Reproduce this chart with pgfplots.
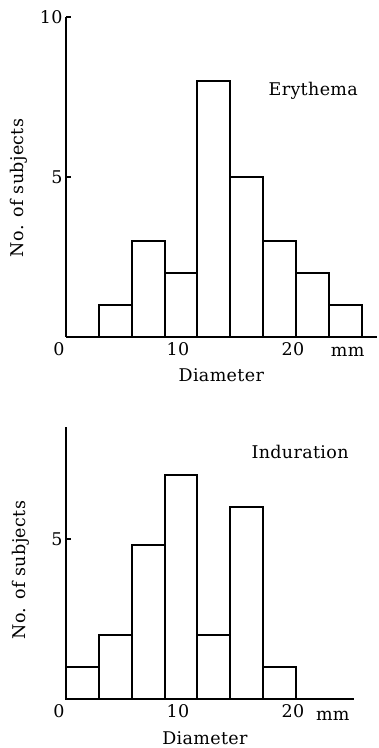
\documentclass[border=0pt]{standalone}
\usepackage{fontspec}
\setmainfont{DejaVu Serif}[LetterSpace=2]
\usepackage{pgfplots}
\pgfplotsset{compat=1.18}
\newcommand{\chartfont}{\fontsize{17.5bp}{20bp}\selectfont}
\pgfplotsset{
  hist/.style={
    x=11.5bp, y=32bp, xmin=0, ymin=0,
    scale only axis,
    axis lines=left,
    axis line style={-, line width=1.4bp, black},
    tick align=inside,
    major tick length=5bp,
    ytick style={line width=1.2bp, black},
    x tick style={draw=none},
    xtick={10,20},
    xticklabel style={xshift=-3bp, yshift=-1.5bp},
    extra x ticks={0},
    extra x tick labels={0},
    extra x tick style={xticklabel style={xshift=-4bp}, x tick style={draw=none}},
    /pgf/number format/assume math mode=true,
    tick label style={font=\chartfont, black},
    clip=false,
  },
  bars/.style={ybar interval, draw=black, fill=none, line width=1.9bp},
}
\begin{document}
\begin{tikzpicture}
\useasboundingbox (0,0) rectangle (379bp,748bp);
% Erythema
\begin{axis}[hist, at={(66bp,411bp)}, anchor=south west,
  xmax=27, ymax=10, ytick={5,10},
  xlabel={Diameter}, ylabel={No. of subjects},
  every axis y label/.style={at={(axis description cs:-0.151,0.466)}, rotate=90, anchor=center, font=\chartfont},
  every axis x label/.style={at={(axis description cs:0.5,-0.119)}, anchor=center, font=\chartfont},
]
\addplot[bars] coordinates {
  (2.857,1) (5.714,3) (8.571,2) (11.429,8) (14.286,5)
  (17.143,3) (20,2) (22.857,1) (25.714,0)
};
\node[font=\chartfont, anchor=base] at (axis cs:24.5,0) [yshift=-20bp] {mm};
\node[font=\chartfont, anchor=base] at (axis cs:21.5,7.56) {Erythema};
\end{axis}
% Induration
\begin{axis}[hist, at={(66bp,49bp)}, anchor=south west,
  xmax=25, ymax=8.5, ytick={5},
  xlabel={Diameter}, ylabel={No. of subjects},
  every axis y label/.style={at={(axis description cs:-0.157,0.474)}, rotate=90, anchor=center, font=\chartfont},
  every axis x label/.style={at={(axis description cs:0.483,-0.143)}, anchor=center, font=\chartfont},
]
\addplot[bars] coordinates {
  (0,1) (2.857,2) (5.714,4.8) (8.571,7) (11.429,2)
  (14.286,6) (17.143,1) (20,0)
};
\node[font=\chartfont, anchor=base] at (axis cs:20.35,7.53) {Induration};
\node[font=\chartfont, anchor=base] at (axis cs:23.2,0) [yshift=-21bp] {mm};
\end{axis}
\end{tikzpicture}
\end{document}
